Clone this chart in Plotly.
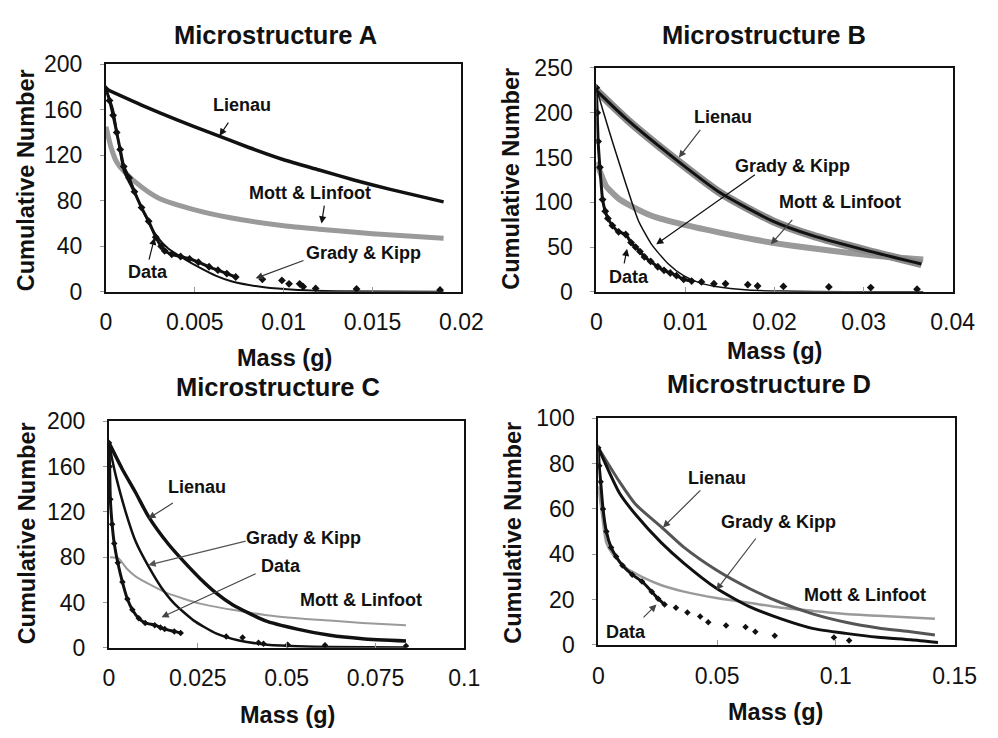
import plotly.graph_objects as go

# ---------------- data ----------------
# Microstructure A
A_lienau_m = [0, 0.002, 0.004, 0.006, 0.008, 0.010, 0.012, 0.014, 0.016, 0.019]
A_lienau_n = [178, 164, 151, 139, 127, 116, 107, 98, 90, 79]
A_mott_m = [0, 0.0003, 0.0006, 0.001, 0.002, 0.003, 0.005, 0.007, 0.010, 0.012, 0.015, 0.019]
A_mott_n = [145, 126, 114, 106, 92, 82, 72, 65, 58, 55, 51, 47]
A_grady_m = [0, 0.0004, 0.0007, 0.001, 0.0017, 0.0022, 0.0028, 0.0035, 0.0044, 0.0053, 0.0062, 0.0071, 0.0089, 0.0108, 0.013, 0.019]
A_grady_n = [178, 160, 132, 106, 84, 67, 50, 38, 29, 21, 14, 9, 4, 1.7, 0.6, 0]
A_data_m = [0, 0.0002, 0.0004, 0.0006, 0.0008, 0.001, 0.0013, 0.0016, 0.002, 0.0024, 0.0028, 0.0031, 0.0033, 0.0037, 0.0042, 0.0047, 0.0052, 0.0058, 0.0063, 0.0068, 0.0073, 0.0088, 0.0099, 0.0103, 0.0109, 0.0111, 0.0118, 0.0141, 0.0188]
A_data_n = [178, 168, 155, 140, 125, 110, 100, 88, 74, 62, 48, 40, 36, 33, 31, 29, 26, 22, 19, 16, 13, 11, 10, 7, 7, 4.5, 3, 2.5, 1.7]

# Microstructure B
B_lienau_m = [0, 0.0035, 0.0089, 0.014, 0.0198, 0.0242, 0.0304, 0.0365]
B_lienau_n = [225, 192, 148, 110, 79, 63, 46, 31]
B_mott_m = [0, 0.0005, 0.0011, 0.0025, 0.0035, 0.0062, 0.0098, 0.0144, 0.0185, 0.0231, 0.028, 0.0316, 0.0367]
B_mott_n = [145, 132, 118, 104, 98, 85, 75, 65, 57, 50, 44, 40, 36]
B_grady_m = [0, 0.0007, 0.0018, 0.0033, 0.0047, 0.0062, 0.008, 0.0098, 0.0116, 0.0134, 0.017, 0.0207, 0.028, 0.0367]
B_grady_n = [228, 204, 168, 121, 80, 53, 32, 18, 10, 6, 2, 0.8, 0.2, 0]
B_data_m = [0, 0.0001, 0.0002, 0.0004, 0.0007, 0.001, 0.0013, 0.0018, 0.0025, 0.0033, 0.0039, 0.0044, 0.0049, 0.0054, 0.0061, 0.0069, 0.0076, 0.0083, 0.009, 0.0098, 0.0107, 0.0118, 0.0132, 0.0145, 0.017, 0.0181, 0.021, 0.0261, 0.0308, 0.036]
B_data_n = [228, 200, 168, 139, 103, 90, 82, 74, 67, 64, 55, 50, 45, 39, 34, 28, 24, 21, 18, 14, 12, 11, 9, 9, 8, 6.5, 6, 5.5, 4.7, 3]

# Microstructure C
C_lienau_m = [0, 0.0037, 0.0075, 0.0111, 0.0166, 0.0211, 0.0257, 0.0303, 0.0348, 0.0439, 0.053, 0.0622, 0.0713, 0.0836]
C_lienau_n = [181, 158, 137, 116, 92, 76, 61, 48, 38, 24, 16.5, 11, 8, 6]
C_mott_m = [0.0003, 0.0027, 0.005, 0.0075, 0.012, 0.0166, 0.0257, 0.0348, 0.0439, 0.053, 0.0622, 0.0713, 0.0836]
C_mott_n = [80, 79, 70, 63, 55, 48, 39, 33.5, 29, 26, 24, 22, 20]
C_grady_m = [0, 0.001, 0.002, 0.0047, 0.0075, 0.0111, 0.0148, 0.0184, 0.0239, 0.0303, 0.0366, 0.0439, 0.053, 0.0622, 0.0836]
C_grady_n = [181, 165, 151, 120, 94, 72, 53, 39, 24, 12.5, 6.5, 3, 1.4, 0.7, 0.3]
C_data_m = [0, 0.0002, 0.0004, 0.0009, 0.0015, 0.0025, 0.0038, 0.0052, 0.0066, 0.0084, 0.0102, 0.0129, 0.0145, 0.0157, 0.0184, 0.0202, 0.033, 0.0376, 0.0421, 0.0435, 0.0503, 0.0608, 0.0836]
C_data_n = [181, 160, 131, 109, 92, 75, 58, 43, 33.5, 26, 22, 20, 18, 16.5, 14.5, 13, 10, 9, 4.5, 3.7, 2.8, 2.3, 1.7]

# Microstructure D
D_lienau_m = [0, 0.0089, 0.0157, 0.0266, 0.0361, 0.0497, 0.0634, 0.077, 0.0906, 0.1042, 0.1178, 0.1315, 0.1417]
D_lienau_n = [87, 72, 62, 52, 43, 33, 25, 18.6, 13.6, 10, 7.5, 5.8, 4.4]
D_mott_m = [0, 0.0014, 0.0034, 0.0061, 0.0116, 0.0184, 0.0266, 0.0361, 0.0497, 0.0634, 0.077, 0.0906, 0.1042, 0.1178, 0.1417]
D_mott_n = [70, 59, 45, 40, 34, 30, 26.3, 23.5, 20.7, 18.6, 16.4, 15, 13.6, 12.9, 11.5]
D_grady_m = [0, 0.0089, 0.0157, 0.0266, 0.0361, 0.0497, 0.0634, 0.077, 0.0906, 0.1042, 0.1178, 0.1315, 0.143]
D_grady_n = [87, 67, 57.5, 45, 36, 25, 17, 11.5, 7.2, 5.1, 3.4, 2.3, 1.1]
D_data_m = [0, 0.0004, 0.001, 0.002, 0.0034, 0.0054, 0.0075, 0.0102, 0.0143, 0.0184, 0.0225, 0.0252, 0.0279, 0.0327, 0.0375, 0.0429, 0.0463, 0.0538, 0.062, 0.0661, 0.0743, 0.0992, 0.1056]
D_data_n = [87, 79, 72, 60, 50, 43, 39, 35, 31, 28, 23.5, 20.4, 17.8, 16.4, 14.3, 12.5, 10, 8.6, 7.9, 5.8, 4, 3.3, 2]

titles = ["Microstructure A", "Microstructure B", "Microstructure C", "Microstructure D"]
A_xticks = [0, 0.005, 0.01, 0.015, 0.02]
B_xticks = [0, 0.01, 0.02, 0.03, 0.04]
C_xticks = [0, 0.025, 0.05, 0.075, 0.1]
D_xticks = [0, 0.05, 0.1, 0.15]
A_yticks = [0, 40, 80, 120, 160, 200]
B_yticks = [0, 50, 100, 150, 200, 250]
C_yticks = [0, 40, 80, 120, 160, 200]
D_yticks = [0, 20, 40, 60, 80, 100]

FONT = "Liberation Sans, Arial, sans-serif"
BLACK = "#111111"
GRAY = "#9a9a9a"

fig = go.Figure()


def line(xa, ya, m, n, color, width):
    fig.add_trace(go.Scatter(x=m, y=n, mode="lines", xaxis=xa, yaxis=ya,
                             line=dict(color=color, width=width, shape="spline", smoothing=0.6),
                             hoverinfo="skip", showlegend=False))


def data(xa, ya, m, n, k, size=6):
    fig.add_trace(go.Scatter(x=m[:k], y=n[:k], mode="lines", xaxis=xa, yaxis=ya,
                             line=dict(color=BLACK, width=3, shape="spline", smoothing=0.5),
                             showlegend=False, hoverinfo="skip"))
    fig.add_trace(go.Scatter(x=m, y=n, mode="markers", xaxis=xa, yaxis=ya,
                             marker=dict(symbol="diamond", size=size, color=BLACK),
                             showlegend=False))


# A
line("x", "y", A_mott_m, A_mott_n, GRAY, 5)
line("x", "y", A_lienau_m, A_lienau_n, BLACK, 3.5)
line("x", "y", A_grady_m, A_grady_n, BLACK, 2)
data("x", "y", A_data_m, A_data_n, 21)
# B
line("x2", "y2", B_mott_m, B_mott_n, GRAY, 6)
line("x2", "y2", B_lienau_m, B_lienau_n, "#8a8a8a", 8)
line("x2", "y2", B_lienau_m, B_lienau_n, BLACK, 3)
line("x2", "y2", B_grady_m, B_grady_n, BLACK, 1.5)
data("x2", "y2", B_data_m, B_data_n, 21)
# C
line("x3", "y3", C_mott_m, C_mott_n, GRAY, 2)
line("x3", "y3", C_lienau_m, C_lienau_n, BLACK, 3.5)
line("x3", "y3", C_grady_m, C_grady_n, BLACK, 2.5)
data("x3", "y3", C_data_m, C_data_n, 16, 5)
# D
line("x4", "y4", D_mott_m, D_mott_n, GRAY, 2.5)
line("x4", "y4", D_lienau_m, D_lienau_n, "#555555", 3)
line("x4", "y4", D_grady_m, D_grady_n, BLACK, 3)
data("x4", "y4", D_data_m, D_data_n, 13, 5)

W, H = 998, 738
# plot boxes in pixels: left, right, top, bottom
boxes = [(103, 469, 53, 289), (608, 975, 57, 289), (106, 472, 423, 658), (610, 977, 420, 655)]
xranges = [[0, 0.02], [0, 0.04], [0, 0.1], [0, 0.15]]
yranges = [[0, 200], [0, 250], [0, 200], [0, 100]]
xticks = [A_xticks, B_xticks, C_xticks, D_xticks]
yticks = [A_yticks, B_yticks, C_yticks, D_yticks]

layout = dict(width=W, height=H, margin=dict(l=0, r=0, t=0, b=0),
              paper_bgcolor="white", plot_bgcolor="white", showlegend=False,
              font=dict(family=FONT, color=BLACK))
for i, (l, r, t, b) in enumerate(boxes):
    sx = "" if i == 0 else str(i + 1)
    layout["xaxis" + sx] = dict(domain=[l / W, r / W], range=xranges[i], anchor="y" + sx,
                                 tickvals=xticks[i], ticktext=[f"{v:g}" for v in xticks[i]],
                                 showline=True, linecolor=BLACK, linewidth=2, mirror=True,
                                 showgrid=False, zeroline=False, ticks="inside", ticklen=5,
                                 tickcolor="#999999", tickfont=dict(size=23, family=FONT),
                                 ticklabelstandoff=9)
    layout["yaxis" + sx] = dict(domain=[1 - b / H, 1 - t / H], range=yranges[i], anchor="x" + sx,
                                 tickvals=yticks[i], showline=True, linecolor=BLACK, linewidth=2,
                                 mirror=True, showgrid=False, zeroline=False, ticks="outside",
                                 ticklen=4, tickcolor="#999999", tickfont=dict(size=23, family=FONT),
                                 ticklabelstandoff=13)
fig.update_layout(**layout)

ann = []
# titles and axis titles in pixels
title_pos = [(278, 23), (781, 23), (280, 388), (786, 385)]
xtitle_pos = [(287, 358), (791, 350), (290, 728), (793, 725)]
ytitle_pos = [(21, 173), (520, 172), (22, 539), (522, 539)]
for i in range(4):
    tx, ty = title_pos[i]
    ann.append(dict(text="<b>" + titles[i] + "</b>", x=tx / W, y=1 - ty / H, xref="paper", yref="paper",
                    xanchor="center", yanchor="middle",
                    showarrow=False, font=dict(size=25.5, family=FONT, color=BLACK)))
    tx, ty = xtitle_pos[i]
    ann.append(dict(text="<b>Mass (g)</b>", x=tx / W, y=1 - ty / H, xref="paper", yref="paper",
                    xanchor="center", yanchor="middle",
                    showarrow=False, font=dict(size=23.5, family=FONT, color=BLACK)))
    tx, ty = ytitle_pos[i]
    ann.append(dict(text="<b>Cumulative Number</b>", x=tx / W, y=1 - ty / H, xref="paper", yref="paper",
                    xanchor="center", yanchor="middle",
                    showarrow=False, textangle=-90, font=dict(size=23.5, family=FONT, color=BLACK)))

# curve labels (axis suffix, text, x, y)
labels = [
    ("", "Lienau", 0.00765, 164), ("", "Mott &amp; Linfoot", 0.01148, 86.4),
    ("", "Grady &amp; Kipp", 0.01448, 33.9), ("", "Data", 0.00235, 17.8),
    ("2", "Lienau", 0.01423, 195), ("2", "Grady &amp; Kipp", 0.02207, 140),
    ("2", "Mott &amp; Linfoot", 0.0274, 100), ("2", "Data", 0.0037, 17),
    ("3", "Lienau", 0.0248, 142), ("3", "Grady &amp; Kipp", 0.0547, 97),
    ("3", "Data", 0.0485, 72), ("3", "Mott &amp; Linfoot", 0.0708, 42),
    ("4", "Lienau", 0.0501, 73.8), ("4", "Grady &amp; Kipp", 0.076, 54.2),
    ("4", "Mott &amp; Linfoot", 0.1124, 22.1), ("4", "Data", 0.0116, 5.8),
]
for sx, txt, x, y in labels:
    ann.append(dict(text="<b>" + txt + "</b>", x=x, y=y, xref="x" + sx, yref="y" + sx,
                    xanchor="center", yanchor="middle",
                    showarrow=False, font=dict(size=18, family=FONT, color=BLACK)))

# arrows (axis suffix, tail x, tail y, head x, head y, colour)
arrows = [
    ("", 0.00694, 150, 0.00639, 137, BLACK), ("", 0.0123, 77, 0.01213, 60, BLACK),
    ("", 0.0112, 28, 0.00842, 11.9, "#333333"), ("", 0.0024, 27, 0.00273, 47.5, BLACK),
    ("2", 0.0118, 182.5, 0.00926, 150, "#444444"), ("2", 0.01797, 132, 0.00672, 53, BLACK),
    ("2", 0.02214, 82, 0.0196, 53, "#444444"), ("2", 0.00309, 30, 0.00345, 48, BLACK),
    ("3", 0.0184, 128.5, 0.0111, 114, "#444444"), ("3", 0.0389, 94.5, 0.0111, 73, "#555555"),
    ("3", 0.0417, 66, 0.0148, 27, "#444444"),
    ("4", 0.0436, 68.8, 0.0272, 51.8, "#444444"), ("4", 0.0668, 47.6, 0.0497, 24.2, "#444444"),
    ("4", 0.0184, 11.5, 0.0245, 17.8, "#444444"),
]
for sx, ax, ay, x, y, c in arrows:
    ann.append(dict(text="", x=x, y=y, ax=ax, ay=ay, xref="x" + sx, yref="y" + sx,
                    axref="x" + sx, ayref="y" + sx, showarrow=True, arrowhead=2,
                    arrowsize=1.2, arrowwidth=1.2, arrowcolor=c))

fig.update_layout(annotations=ann)
fig.write_html("out.html")
